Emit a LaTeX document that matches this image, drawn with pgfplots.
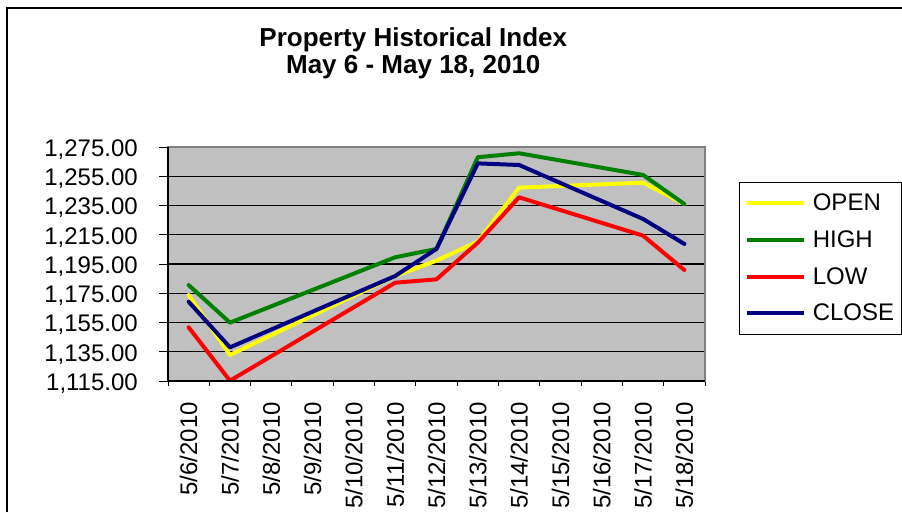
\documentclass[border=0pt]{standalone}
\usepackage{pgfplots}
\pgfplotsset{compat=1.18}
\usepackage{fontspec}
\setmainfont{Liberation Sans}
\definecolor{cyel}{RGB}{255,255,0}
\definecolor{cgreen}{RGB}{0,128,0}
\definecolor{cred}{RGB}{255,0,0}
\definecolor{cnavy}{RGB}{0,0,128}
\definecolor{plotgray}{RGB}{192,192,192}
\definecolor{framegray}{RGB}{128,128,128}
\begin{document}
\begin{tikzpicture}
\useasboundingbox (0pt,0pt) rectangle (902pt,512pt);
\draw[line width=2pt] (7.3pt,0pt) -- (7.3pt,503.7pt) -- (902pt,503.7pt);
\node[font=\fontsize{26}{27}\selectfont\bfseries, anchor=base] at (413.3pt,465.3pt) {Property Historical Index};
\node[font=\fontsize{26}{27}\selectfont\bfseries, anchor=base] at (413.3pt,438.7pt) {May 6 - May 18, 2010};
\begin{axis}[
  at={(168pt,131pt)}, anchor=south west,
  scale only axis, width=537pt, height=234pt,
  xmin=-0.5, xmax=12.5, ymin=1115, ymax=1275,
  xtick={0,...,12},
  xticklabels={5/6/2010,5/7/2010,5/8/2010,5/9/2010,5/10/2010,5/11/2010,5/12/2010,5/13/2010,5/14/2010,5/15/2010,5/16/2010,5/17/2010,5/18/2010},
  minor xtick={-0.5,0.5,...,12.5},
  ytick={1115,1135,...,1275},
  scaled y ticks=false,
  tick align=outside, xtick pos=bottom, ytick pos=left,
  major tick length=9pt, minor tick length=5pt,
  every major x tick/.append style={draw=none},
  tick style={black, line width=1pt},
  axis background/.style={fill=plotgray},
  axis line style={draw=framegray, line width=2pt},
  ymajorgrids, major grid style={black, line width=1.1pt},
  xticklabel style={font=\fontsize{24}{26}\selectfont, rotate=90, anchor=east, inner sep=0pt},
  yticklabel style={font=\fontsize{24}{26}\selectfont, anchor=east, inner sep=0pt, yshift=-2.5pt,
    /pgf/number format/fixed, /pgf/number format/fixed zerofill,
    /pgf/number format/precision=2, /pgf/number format/1000 sep={,},
    /pgf/number format/assume math mode=true},
  xticklabel shift=12pt,
  yticklabel shift=21pt,
  legend style={at={(1.0639,0.8504)}, anchor=north west, draw=black, line width=1pt,
    font=\fontsize{24}{26}\selectfont, inner xsep=5pt, inner ysep=9.7pt, row sep=14.4pt,
    cells={anchor=west},
    /tikz/every odd column/.append style={column sep=5pt}},
  legend image code/.code={\draw[#1, line width=4pt, line cap=butt] (6pt,0pt) -- (63pt,0pt);},
  after end axis/.code={\draw[black, line width=1.3pt] (rel axis cs:0,1) -- (rel axis cs:0,0) -- (rel axis cs:1,0);},
  every axis plot/.append style={line width=4pt, line join=round, line cap=round},
]
\addplot[cyel] coordinates {(0,1173.8) (1,1132.8) (5,1186.8) (6,1197.3) (7,1210.3) (8,1247.2) (11,1250.6) (12,1236.0)};
\addlegendentry{OPEN}
\addplot[cgreen] coordinates {(0,1180.6) (1,1154.9) (5,1199.6) (6,1205.3) (7,1268.0) (8,1270.7) (11,1255.9) (12,1236.0)};
\addlegendentry{HIGH}
\addplot[cred] coordinates {(0,1151.7) (1,1115.2) (5,1182.2) (6,1184.5) (7,1209.6) (8,1240.6) (11,1214.4) (12,1190.9)};
\addlegendentry{LOW}
\addplot[cnavy] coordinates {(0,1169.2) (1,1138.0) (5,1186.8) (6,1205.3) (7,1263.8) (8,1262.7) (11,1225.8) (12,1208.7)};
\addlegendentry{CLOSE}
\end{axis}
\end{tikzpicture}
\end{document}
